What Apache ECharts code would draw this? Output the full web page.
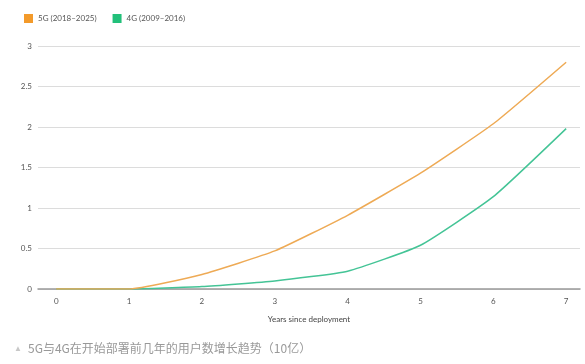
<!DOCTYPE html>
<html><head><meta charset="utf-8">
<script src="https://cdn.jsdelivr.net/npm/echarts@6/dist/echarts.min.js"></script>
<style>html,body{margin:0;padding:0;background:#fff}#c{width:585px;height:364px}</style>
</head><body><div id="c"></div>
<script>
const years = [0,1,2,3,4,5,6,7];
const yTicks = [0,0.5,1,1.5,2,2.5,3];
const g5 = [0,0,0.18,0.47,0.91,1.43,2.04,2.80];
const g4 = [0,0,0.03,0.10,0.22,0.54,1.14,1.98];
const seriesNames = ['5G (2018–2025)','4G (2009–2016)'];
const xName = 'Years since deployment';
const caption = '5G与4G在开始部署前几年的用户数增长趋势（10亿）';

const chart = echarts.init(document.getElementById('c'));
const font = 'Lato, "Noto Sans", sans-serif';
chart.setOption({
  animation:false,
  legend:{left:19,top:9,itemWidth:9,itemHeight:9,itemGap:16,icon:'rect',
    textStyle:{fontSize:8,color:'#555',fontFamily:font},
    data:[{name:seriesNames[0],itemStyle:{color:'#f39a2a'}},{name:seriesNames[1],itemStyle:{color:'#22c07a'}}]},
  grid:{left:38,right:5,top:46,bottom:75},
  xAxis:{type:'value',min:-0.25,max:7.19,
    name:xName,nameLocation:'middle',nameGap:26,
    nameTextStyle:{fontSize:8,color:'#444',fontFamily:font},
    axisLine:{show:true,lineStyle:{color:'#999',width:1.5}},
    axisTick:{show:false},splitLine:{show:false},
    axisLabel:{customValues:years,fontSize:8,color:'#555',margin:8,fontFamily:font}},
  yAxis:{type:'value',min:0,max:3,interval:0.5,
    axisLine:{show:false},axisTick:{show:false},
    axisLabel:{customValues:yTicks,fontSize:8,color:'#555',margin:6,fontFamily:font},
    splitLine:{lineStyle:{color:'#dcdcdc',width:1}}},
  series:[
    {name:seriesNames[0],type:'line',data:years.map((x,i)=>[x,g5[i]]),symbol:'none',smooth:0.15,
      lineStyle:{color:'#eeaa55',width:1.5},itemStyle:{color:'#f39a2a'},z:3},
    {name:seriesNames[1],type:'line',data:years.map((x,i)=>[x,g4[i]]),symbol:'none',smooth:0.15,
      lineStyle:{color:'#44c496',width:1.5},itemStyle:{color:'#22c07a'},z:2}
  ],
  graphic:[
    {type:'text',left:14,top:345,style:{text:'▲',fontSize:8,fill:'#c8c8c8'}},
    {type:'text',left:28,top:342,style:{text:caption,fontSize:12,fill:'#999',fontFamily:'"Noto Sans CJK SC", sans-serif'}}
  ]
});
</script></body></html>
